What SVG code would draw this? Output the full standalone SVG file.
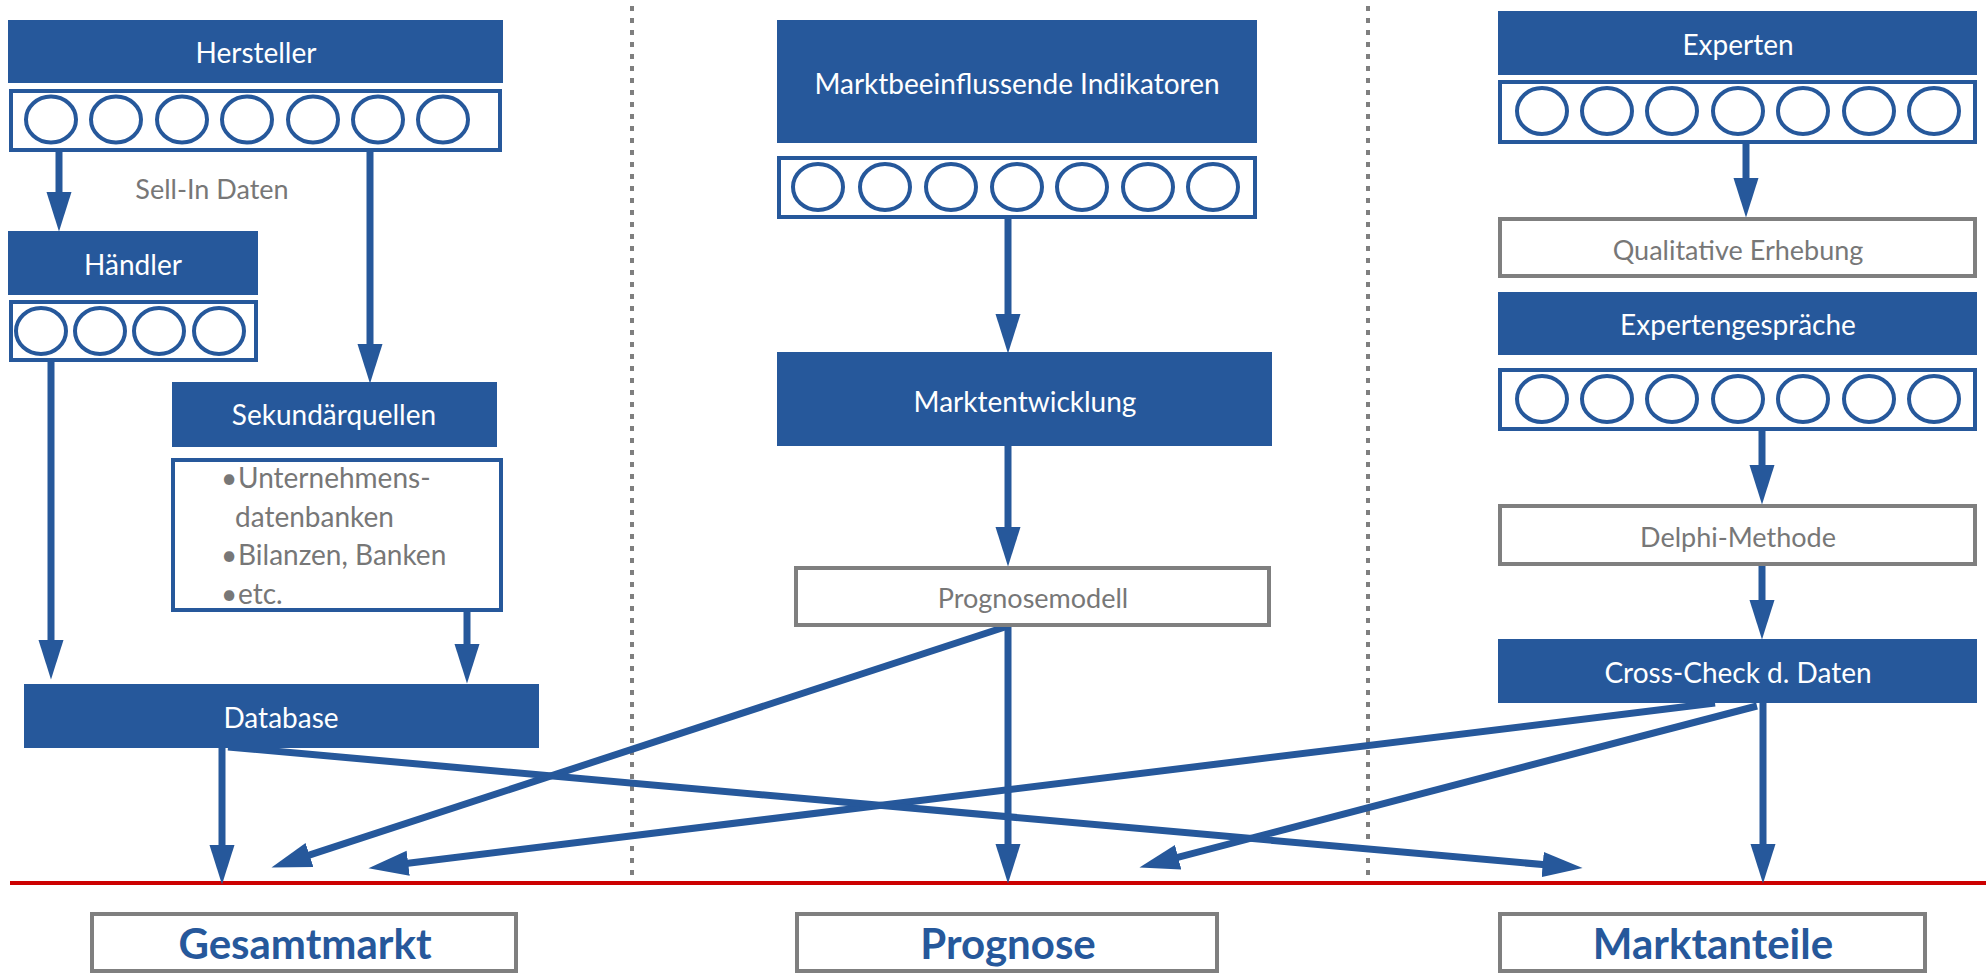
<svg xmlns="http://www.w3.org/2000/svg" width="1986" height="974" viewBox="0 0 1986 974">
<defs>
<style>
.bx{fill:#26589B}
.st{fill:#fff;stroke:#26589B;stroke-width:4}
.gb{fill:#fff;stroke:#7F7F7F;stroke-width:4}
.c{fill:none;stroke:#26589B;stroke-width:4}
.wt{font-family:Lato,"Open Sans","Liberation Sans",sans-serif;font-size:28px;fill:#fff;text-anchor:middle}
.gt{font-family:Lato,"Open Sans","Liberation Sans",sans-serif;font-size:27px;fill:#777;text-anchor:middle}
.bt{font-family:Lato,"Open Sans","Liberation Sans",sans-serif;font-size:28px;fill:#777}
.lt{font-family:Lato,"Open Sans","Liberation Sans",sans-serif;font-size:42px;font-weight:700;fill:#26589B;text-anchor:middle}
.ln{fill:none;stroke:#26589B;stroke-width:7}
.dl{fill:none;stroke:#7F7F7F;stroke-width:4;stroke-dasharray:5 7}
</style>
<marker id="ah" markerUnits="userSpaceOnUse" markerWidth="40" markerHeight="26" viewBox="0 0 38 24" refX="8" refY="12" orient="auto">
<path d="M0,0 L38,12 L0,24 z" fill="#26589B"/>
</marker>
</defs>
<rect width="1986" height="974" fill="#fff"/>
<g id="dividers">
<line class="dl" x1="632" y1="6" x2="632" y2="883"/>
<line class="dl" x1="1368" y1="6" x2="1368" y2="883"/>
<line x1="10" y1="883" x2="1986" y2="883" stroke="#CC0000" stroke-width="4"/>
</g>
<g id="connectors">
<line class="ln" x1="59" y1="152" x2="59" y2="200" marker-end="url(#ah)"/>
<line class="ln" x1="370" y1="152" x2="370" y2="352" marker-end="url(#ah)"/>
<line class="ln" x1="51" y1="362" x2="51" y2="648" marker-end="url(#ah)"/>
<line class="ln" x1="467" y1="612" x2="467" y2="652" marker-end="url(#ah)"/>
<line class="ln" x1="222" y1="748" x2="222" y2="853" marker-end="url(#ah)"/>
<line class="ln" x1="1008" y1="219" x2="1008" y2="322" marker-end="url(#ah)"/>
<line class="ln" x1="1008" y1="446" x2="1008" y2="535" marker-end="url(#ah)"/>
<line class="ln" x1="1008" y1="627" x2="1008" y2="852" marker-end="url(#ah)"/>
<line class="ln" x1="1746" y1="144" x2="1746" y2="186" marker-end="url(#ah)"/>
<line class="ln" x1="1762" y1="431" x2="1762" y2="473" marker-end="url(#ah)"/>
<line class="ln" x1="1762" y1="566" x2="1762" y2="608" marker-end="url(#ah)"/>
<line class="ln" x1="1763" y1="703" x2="1763" y2="852" marker-end="url(#ah)"/>
<line class="ln" x1="1005" y1="627" x2="301.5" y2="857.7" marker-end="url(#ah)"/>
<line class="ln" x1="1715" y1="703" x2="399.8" y2="864.3" marker-end="url(#ah)"/>
<line class="ln" x1="1757" y1="706" x2="1170" y2="859.4" marker-end="url(#ah)"/>
<line class="ln" x1="228" y1="747" x2="1551.1" y2="865.3" marker-end="url(#ah)"/>
</g>
<g id="hersteller">
<rect class="bx" x="8" y="20" width="495" height="63"/>
<text class="wt" x="256" y="63">Hersteller</text>
<rect class="st" x="11" y="91" width="489" height="59"/>
<ellipse class="c" cx="51" cy="119.5" rx="25" ry="23"/>
<ellipse class="c" cx="116" cy="119.5" rx="25" ry="23"/>
<ellipse class="c" cx="182" cy="119.5" rx="25" ry="23"/>
<ellipse class="c" cx="247" cy="119.5" rx="25" ry="23"/>
<ellipse class="c" cx="313" cy="119.5" rx="25" ry="23"/>
<ellipse class="c" cx="378" cy="119.5" rx="25" ry="23"/>
<ellipse class="c" cx="443" cy="119.5" rx="25" ry="23"/>
</g>
<g id="sellin">
<text class="gt" x="212" y="199">Sell-In Daten</text>
</g>
<g id="haendler">
<rect class="bx" x="8" y="231" width="250" height="64"/>
<text class="wt" x="133" y="275">Händler</text>
<rect class="st" x="11" y="302" width="245" height="58"/>
<ellipse class="c" cx="41" cy="331" rx="25" ry="23"/>
<ellipse class="c" cx="100" cy="331" rx="25" ry="23"/>
<ellipse class="c" cx="159" cy="331" rx="25" ry="23"/>
<ellipse class="c" cx="219" cy="331" rx="25" ry="23"/>
</g>
<g id="sekundaer">
<rect class="bx" x="172" y="382" width="325" height="65"/>
<text class="wt" x="334" y="425">Sekundärquellen</text>
<rect class="st" x="173" y="460" width="328" height="150"/>
<text class="bt" x="221" y="488">•</text>
<text class="bt" x="238" y="488">Unternehmens-</text>
<text class="bt" x="235" y="527">datenbanken</text>
<text class="bt" x="221" y="565">•</text>
<text class="bt" x="238" y="565">Bilanzen, Banken</text>
<text class="bt" x="221" y="604">•</text>
<text class="bt" x="238" y="604">etc.</text>
</g>
<g id="database">
<rect class="bx" x="24" y="684" width="515" height="64"/>
<text class="wt" x="281" y="728">Database</text>
</g>
<g id="indikatoren">
<rect class="bx" x="777" y="20" width="480" height="123"/>
<text class="wt" x="1017" y="94">Marktbeeinflussende Indikatoren</text>
<rect class="st" x="779" y="158" width="476" height="59"/>
<ellipse class="c" cx="818" cy="187" rx="25" ry="23"/>
<ellipse class="c" cx="885" cy="187" rx="25" ry="23"/>
<ellipse class="c" cx="951" cy="187" rx="25" ry="23"/>
<ellipse class="c" cx="1017" cy="187" rx="25" ry="23"/>
<ellipse class="c" cx="1082" cy="187" rx="25" ry="23"/>
<ellipse class="c" cx="1148" cy="187" rx="25" ry="23"/>
<ellipse class="c" cx="1213" cy="187" rx="25" ry="23"/>
</g>
<g id="marktentwicklung">
<rect class="bx" x="777" y="352" width="495" height="94"/>
<text class="wt" x="1025" y="412">Marktentwicklung</text>
</g>
<g id="prognosemodell">
<rect class="gb" x="796" y="568" width="473" height="57"/>
<text class="gt" x="1033" y="608">Prognosemodell</text>
</g>
<g id="experten">
<rect class="bx" x="1498" y="11" width="479" height="64"/>
<text class="wt" x="1738" y="55">Experten</text>
<rect class="st" x="1500" y="82" width="475" height="60"/>
<ellipse class="c" cx="1542" cy="111" rx="25" ry="23"/>
<ellipse class="c" cx="1607" cy="111" rx="25" ry="23"/>
<ellipse class="c" cx="1672" cy="111" rx="25" ry="23"/>
<ellipse class="c" cx="1738" cy="111" rx="25" ry="23"/>
<ellipse class="c" cx="1803" cy="111" rx="25" ry="23"/>
<ellipse class="c" cx="1869" cy="111" rx="25" ry="23"/>
<ellipse class="c" cx="1934" cy="111" rx="25" ry="23"/>
</g>
<g id="qualitativ">
<rect class="gb" x="1500" y="219" width="475" height="57"/>
<text class="gt" x="1738" y="260">Qualitative Erhebung</text>
</g>
<g id="expertengespraeche">
<rect class="bx" x="1498" y="292" width="479" height="63"/>
<text class="wt" x="1738" y="335">Expertengespräche</text>
<rect class="st" x="1500" y="370" width="475" height="59"/>
<ellipse class="c" cx="1542" cy="399" rx="25" ry="23"/>
<ellipse class="c" cx="1607" cy="399" rx="25" ry="23"/>
<ellipse class="c" cx="1672" cy="399" rx="25" ry="23"/>
<ellipse class="c" cx="1738" cy="399" rx="25" ry="23"/>
<ellipse class="c" cx="1803" cy="399" rx="25" ry="23"/>
<ellipse class="c" cx="1869" cy="399" rx="25" ry="23"/>
<ellipse class="c" cx="1934" cy="399" rx="25" ry="23"/>
</g>
<g id="delphi">
<rect class="gb" x="1500" y="506" width="475" height="58"/>
<text class="gt" x="1738" y="547">Delphi-Methode</text>
</g>
<g id="crosscheck">
<rect class="bx" x="1498" y="639" width="479" height="64"/>
<text class="wt" x="1738" y="683">Cross-Check d. Daten</text>
</g>
<g id="gesamtmarkt">
<rect class="gb" x="92" y="914" width="424" height="57"/>
<text class="lt" x="305" y="959">Gesamtmarkt</text>
</g>
<g id="prognose">
<rect class="gb" x="797" y="914" width="420" height="57"/>
<text class="lt" x="1008" y="959">Prognose</text>
</g>
<g id="marktanteile">
<rect class="gb" x="1500" y="914" width="425" height="57"/>
<text class="lt" x="1713" y="959">Marktanteile</text>
</g>
</svg>
